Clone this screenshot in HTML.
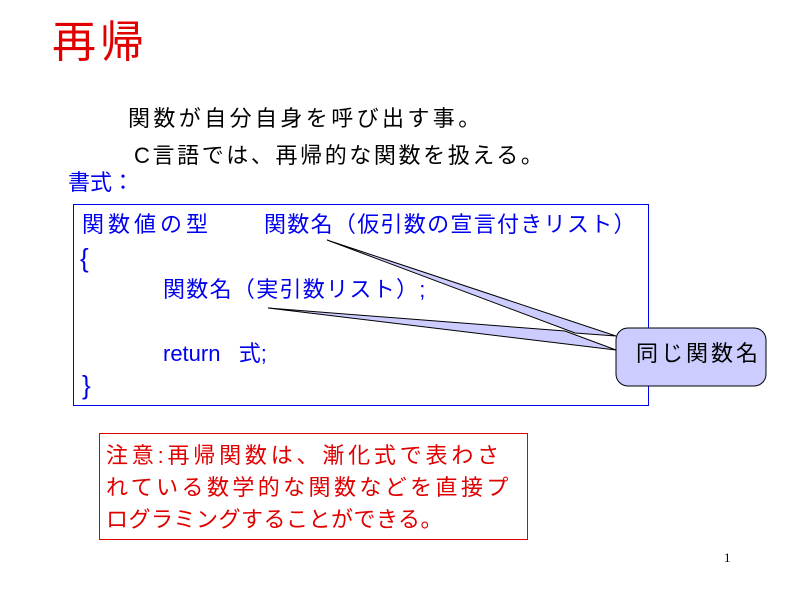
<!DOCTYPE html>
<html><head><meta charset="utf-8"><style>
body{margin:0;width:800px;height:600px;background:#fff;position:relative;overflow:hidden;font-family:"Liberation Sans","Noto Sans CJK JP",sans-serif}
.t{position:absolute;white-space:nowrap}
</style></head><body>
<div class="t" style="left:52px;top:16px;font-size:44px;letter-spacing:4px;color:#e00000;line-height:54px">再帰</div>
<div class="t" style="left:128px;top:104px;font-size:22px;letter-spacing:3.4px;line-height:30px">関数が自分自身を呼び出す事。</div>
<div class="t" style="left:134px;top:141px;font-size:22px;letter-spacing:2.6px;line-height:30px">C言語では、再帰的な関数を扱える。</div>
<div class="t" style="left:68px;top:168px;font-size:22px;line-height:30px;color:#0000ee">書式：</div>
<div style="position:absolute;left:73px;top:204px;width:574px;height:200px;border:1px solid #0000ee"></div>
<div class="t" style="left:82px;top:210px;font-size:22px;letter-spacing:4px;line-height:30px;color:#0000ee">関数値の型</div>
<div class="t" style="left:264px;top:210px;font-size:22px;letter-spacing:1.3px;line-height:30px;color:#0000ee">関数名（仮引数の宣言付きリスト）</div>
<div class="t" style="left:80px;top:243px;font-size:26px;line-height:30px;color:#0000ee">{</div>
<div class="t" style="left:163px;top:275px;font-size:22px;letter-spacing:1.3px;line-height:30px;color:#0000ee">関数名（実引数リスト）;</div>
<div class="t" style="left:163px;top:339px;font-size:22px;line-height:30px;color:#0000ee">return&nbsp;&nbsp;&nbsp;式;</div>
<div class="t" style="left:82px;top:370px;font-size:26px;line-height:30px;color:#0000ee">}</div>
<svg style="position:absolute;left:0;top:0" width="800" height="600">
<polygon points="327,240 575,333 616,336" fill="#ccccff" stroke="#000" stroke-width="1"/>
<polygon points="268,308 565,331 616,350" fill="#ccccff" stroke="#000" stroke-width="1"/>
<rect x="616" y="328" width="150" height="58" rx="12" fill="#ccccff" stroke="#000" stroke-width="1"/>
</svg>
<div class="t" style="left:636px;top:339px;font-size:22px;letter-spacing:3px;line-height:30px">同じ関数名</div>
<div style="position:absolute;left:99px;top:433px;width:427px;height:105px;border:1px solid #e00000"></div>
<div class="t" style="left:106px;top:440px;font-size:22px;letter-spacing:3.8px;line-height:32px;color:#e00000">注意:再帰関数は、漸化式で表わさ</div>
<div class="t" style="left:106px;top:472px;font-size:22px;letter-spacing:3.4px;line-height:32px;color:#e00000">れている数学的な関数などを直接プ</div>
<div class="t" style="left:106px;top:504px;font-size:22px;letter-spacing:0.5px;line-height:32px;color:#e00000">ログラミングすることができる。</div>
<div class="t" style="left:724px;top:550px;font-size:13px;font-family:'Liberation Serif',serif">1</div>
</body></html>
